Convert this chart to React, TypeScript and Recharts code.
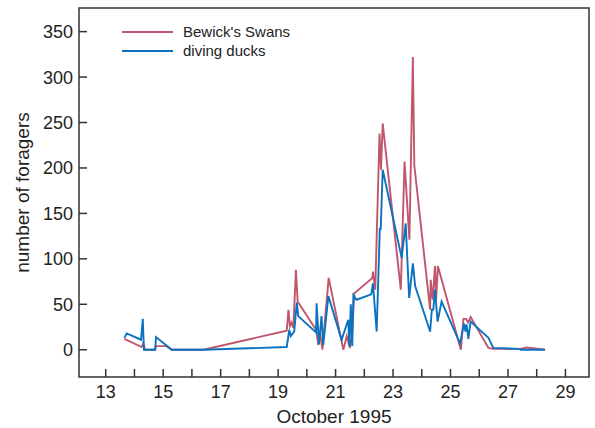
import * as React from 'react';
import { LineChart, Line, XAxis, YAxis, ReferenceArea } from 'recharts';

// day of October 1995 (fractional) vs number of foragers
const swans = [
  { d: 13.65, v: 12 }, { d: 14.25, v: 3 }, { d: 14.31, v: 7 }, { d: 14.37, v: 0 },
  { d: 14.72, v: 0 }, { d: 14.74, v: 4 }, { d: 15.12, v: 4 }, { d: 15.3, v: 0 },
  { d: 16.4, v: 0 }, { d: 19.3, v: 21 }, { d: 19.36, v: 44 }, { d: 19.41, v: 26 },
  { d: 19.47, v: 30 }, { d: 19.53, v: 24 }, { d: 19.62, v: 88 }, { d: 19.68, v: 53 },
  { d: 20.32, v: 22 }, { d: 20.4, v: 5 }, { d: 20.46, v: 18 }, { d: 20.54, v: 0 },
  { d: 20.76, v: 79 }, { d: 21.27, v: 0 }, { d: 21.39, v: 15 }, { d: 21.5, v: 2 },
  { d: 21.58, v: 20 }, { d: 21.65, v: 62 }, { d: 22.28, v: 79 }, { d: 22.3, v: 86 },
  { d: 22.38, v: 66 }, { d: 22.53, v: 238 }, { d: 22.58, v: 198 }, { d: 22.64, v: 249 },
  { d: 23.27, v: 66 }, { d: 23.4, v: 207 }, { d: 23.57, v: 121 }, { d: 23.69, v: 322 },
  { d: 23.74, v: 203 }, { d: 24.29, v: 44 }, { d: 24.31, v: 77 }, { d: 24.38, v: 55 },
  { d: 24.46, v: 92 }, { d: 24.5, v: 55 }, { d: 24.56, v: 92 }, { d: 25.36, v: 0 },
  { d: 25.45, v: 34 }, { d: 25.54, v: 34 }, { d: 25.61, v: 30 }, { d: 25.7, v: 36 },
  { d: 26.32, v: 2 }, { d: 26.49, v: 1 }, { d: 27.42, v: 1 }, { d: 27.65, v: 2.5 },
  { d: 28.29, v: 0 },
];

const ducks = [
  { d: 13.65, v: 13 }, { d: 13.73, v: 18 }, { d: 14.23, v: 11 }, { d: 14.29, v: 34 },
  { d: 14.33, v: 0 }, { d: 14.72, v: 0 }, { d: 14.75, v: 14 }, { d: 15.3, v: 0 },
  { d: 16.4, v: 0 }, { d: 19.3, v: 3 }, { d: 19.39, v: 22 }, { d: 19.44, v: 15 },
  { d: 19.51, v: 18 }, { d: 19.56, v: 20 }, { d: 19.65, v: 52 }, { d: 19.7, v: 37 },
  { d: 20.32, v: 19 }, { d: 20.34, v: 51 }, { d: 20.42, v: 6 }, { d: 20.51, v: 37 },
  { d: 20.57, v: 5 }, { d: 20.75, v: 59 }, { d: 21.21, v: 11 }, { d: 21.44, v: 33 },
  { d: 21.48, v: 4 }, { d: 21.53, v: 50 }, { d: 21.58, v: 4 }, { d: 21.62, v: 60 },
  { d: 21.73, v: 55 }, { d: 22.24, v: 61 }, { d: 22.3, v: 73 }, { d: 22.43, v: 20 },
  { d: 22.54, v: 134 }, { d: 22.57, v: 132 }, { d: 22.64, v: 198 }, { d: 23.3, v: 101 },
  { d: 23.44, v: 139 }, { d: 23.56, v: 57 }, { d: 23.69, v: 95 }, { d: 23.77, v: 70 },
  { d: 24.29, v: 20 }, { d: 24.35, v: 44 }, { d: 24.4, v: 44 }, { d: 24.46, v: 66 },
  { d: 24.55, v: 31 }, { d: 24.69, v: 53 }, { d: 25.33, v: 7 }, { d: 25.47, v: 29 },
  { d: 25.52, v: 20 }, { d: 25.56, v: 28 }, { d: 25.62, v: 12 }, { d: 25.7, v: 31 },
  { d: 26.32, v: 13 }, { d: 26.49, v: 2 }, { d: 27.4, v: 1 }, { d: 27.45, v: 0 },
  { d: 28.29, v: 0 },
];

const series = [
  { name: "Bewick's Swans", data: swans, color: '#c0566b' },
  { name: 'diving ducks', data: ducks, color: '#0a72c0' },
];

const xTicks = [13, 14, 15, 16, 17, 18, 19, 20, 21, 22, 23, 24, 25, 26, 27, 28, 29];
const yTicks = [0, 50, 100, 150, 200, 250, 300, 350];
const xDomain = [12.07, 29.82];
const yDomain = [-30, 376];

const FONT = '"Liberation Sans", Arial, sans-serif';
const INK = '#222';
const AXIS = '#333';

function XTick({ x, y, payload }: any) {
  const v = payload.value;
  return (
    <g>
      <line x1={x} x2={x} y1={y} y2={y - 8} stroke={AXIS} strokeWidth={1.5} />
      {v % 2 === 1 && (
        <text x={x} y={y + 21} textAnchor="middle" fontSize={18} fill={INK} fontFamily={FONT}>
          {v}
        </text>
      )}
    </g>
  );
}

function YTick({ x, y, payload }: any) {
  return (
    <g>
      <line x1={x} x2={x + 8} y1={y} y2={y} stroke={AXIS} strokeWidth={1.5} />
      <text x={x - 6} y={y + 6.5} textAnchor="end" fontSize={18} fill={INK} fontFamily={FONT}>
        {payload.value}
      </text>
    </g>
  );
}

export default function App() {
  return (
    <div style={{ position: 'relative', width: 595, height: 428, fontFamily: FONT }}>
      <style>{'body{margin:0}'}</style>
      <LineChart width={595} height={428} margin={{ top: 8, right: 6, bottom: 0, left: 0 }}>
        <XAxis
          type="number"
          dataKey="d"
          domain={xDomain}
          allowDataOverflow
          ticks={xTicks}
          interval={0}
          height={51}
          tickSize={0}
          tickMargin={0}
          tickLine={false}
          axisLine={false}
          tick={<XTick />}
          label={{ value: 'October 1995', position: 'insideBottom', offset: 5, fontSize: 19, fill: INK }}
        />
        <YAxis
          type="number"
          domain={yDomain}
          allowDataOverflow
          ticks={yTicks}
          interval={0}
          width={79}
          tickSize={0}
          tickMargin={0}
          tickLine={false}
          axisLine={false}
          tick={<YTick />}
          label={{
            value: 'number of foragers',
            angle: -90,
            position: 'insideLeft',
            offset: 22,
            fontSize: 19,
            fill: INK,
            style: { textAnchor: 'middle' },
          }}
        />
        <ReferenceArea
          x1={xDomain[0]}
          x2={xDomain[1]}
          y1={yDomain[0]}
          y2={yDomain[1]}
          fill="none"
          stroke={AXIS}
          strokeWidth={1.5}
        />
        {series.map((s) => (
          <Line
            key={s.name}
            data={s.data}
            dataKey="v"
            type="linear"
            stroke={s.color}
            strokeWidth={1.9}
            dot={false}
            isAnimationActive={false}
          />
        ))}
      </LineChart>
      <div style={{ position: 'absolute', left: 122, top: 22 }}>
        {series.map((s) => (
          <div key={s.name} style={{ display: 'flex', alignItems: 'center', height: 19.3 }}>
            <span style={{ display: 'inline-block', width: 51, height: 0, borderTop: `2px solid ${s.color}` }} />
            <span style={{ marginLeft: 10, fontSize: 15, color: INK, lineHeight: '19px' }}>{s.name}</span>
          </div>
        ))}
      </div>
    </div>
  );
}
